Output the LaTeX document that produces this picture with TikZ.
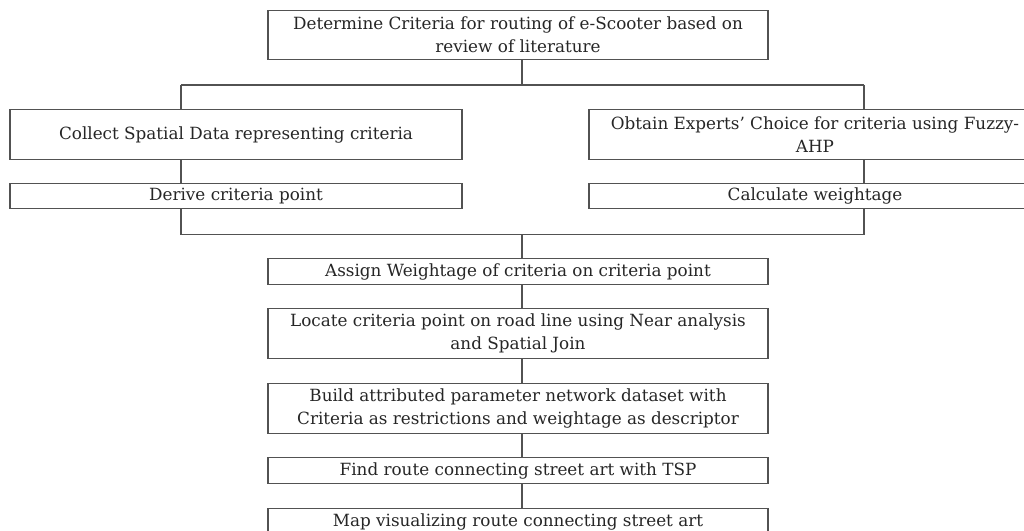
\documentclass[tikz,border=0pt]{standalone}
\usepackage{fontspec}
\setmainfont{DejaVu Serif}
\begin{document}
\begin{tikzpicture}[x=0.75pt,y=-0.75pt,
  box/.style={draw=black!68,line width=0.8pt,fill=white,align=center,inner sep=0pt,
    text=black!85,font=\fontsize{12.6}{17.25}\selectfont},
  wide/.style={box,minimum width=375pt},
  side/.style={box,minimum width=339pt},
  tall/.style={minimum height=37pt},
  short/.style={minimum height=19pt},
  conn/.style={draw=black!68,line width=0.8pt}]
\useasboundingbox (0,0) rectangle (1024,531);
\node[wide,tall] (top) at (518,35) {Determine Criteria for routing of e-Scooter based on\\review of literature};
\node[side,tall] (l1) at (236,134.5) {Collect Spatial Data representing criteria};
\node[side,tall] (r1) at (815,134.5) {Obtain Experts' Choice for criteria using Fuzzy-\\AHP};
\node[side,short] (l2) at (236,196) {Derive criteria point};
\node[side,short] (r2) at (815,196) {Calculate weightage};
\node[wide,short] (assign) at (518,271.5) {Assign Weightage of criteria on criteria point};
\node[wide,tall] (locate) at (518,333.5) {Locate criteria point on road line using Near analysis\\and Spatial Join};
\node[wide,tall] (build) at (518,408.5) {Build attributed parameter network dataset with\\Criteria as restrictions and weightage as descriptor};
\node[wide,short] (find) at (518,470.5) {Find route connecting street art with TSP};
\node[wide,short] (map) at (518,521.5) {Map visualizing route connecting street art};
\coordinate (s) at (522,0);
\coordinate (hL) at (181,85);
\coordinate (hR) at (864,85);
\coordinate (bL) at (181,234.5);
\coordinate (bR) at (864,234.5);
\draw[conn] (hL) -- (hR);
\draw[conn] (bL) -- (bR);
\draw[conn] (top.south -| s) -- (s |- hL);
\draw[conn] (hL) -- (l1.north -| hL);
\draw[conn] (l1.south -| hL) -- (l2.north -| hL);
\draw[conn] (l2.south -| hL) -- (bL);
\draw[conn] (hR) -- (r1.north -| hR);
\draw[conn] (r1.south -| hR) -- (r2.north -| hR);
\draw[conn] (r2.south -| hR) -- (bR);
\draw[conn] (s |- bL) -- (assign.north -| s);
\draw[conn] (assign.south -| s) -- (locate.north -| s);
\draw[conn] (locate.south -| s) -- (build.north -| s);
\draw[conn] (build.south -| s) -- (find.north -| s);
\draw[conn] (find.south -| s) -- (map.north -| s);
\end{tikzpicture}
\end{document}
